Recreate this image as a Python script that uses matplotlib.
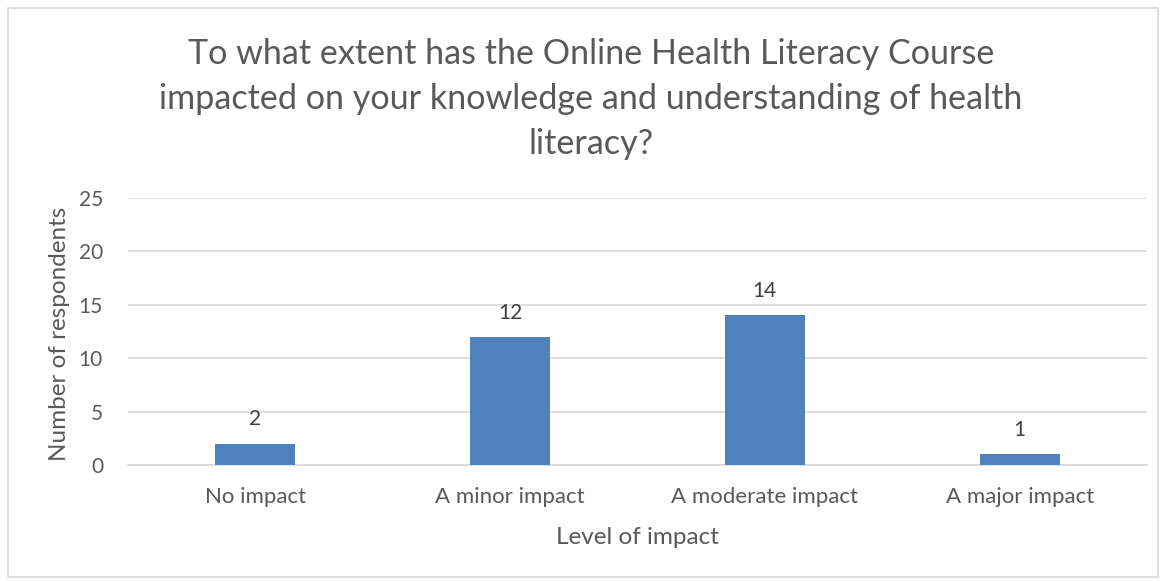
import matplotlib
matplotlib.use("Agg")
import matplotlib.pyplot as plt
from matplotlib.patches import Rectangle

categories = ["No impact", "A minor impact", "A moderate impact", "A major impact"]
values = [2, 12, 14, 1]
yticks = [0, 5, 10, 15, 20, 25]
title = ("To what extent has the Online Health Literacy Course\n"
         "impacted on your knowledge and understanding of health\n"
         "literacy?")

plt.rcParams['font.family'] = ['Lato', 'DejaVu Sans']
TXT = '#595959'

fig = plt.figure(figsize=(11.69, 5.81), dpi=100)
ax = fig.add_axes([128/1169, 1-465/581, (1147-128)/1169, (465-198)/581])

x = list(range(len(categories)))
bars = ax.bar(x, values, width=0.314, color='#4F81BD', zorder=3)
for xi, v in zip(x, values):
    ax.annotate(str(v), (xi, v), xytext=(0, 17.5), textcoords='offset points',
                ha='center', va='center', fontsize=15, color='#404040')

ax.set_xlim(-0.5, len(categories) - 0.5)
ax.set_ylim(0, 25)
ax.set_yticks(yticks)
ax.set_yticklabels([str(t) for t in yticks], fontsize=15, color=TXT)
ax.set_xticks(x)
ax.set_xticklabels(categories, fontsize=16, color=TXT)
ax.tick_params(axis='both', length=0)
ax.tick_params(axis='y', pad=18)
ax.tick_params(axis='x', pad=16)
ax.grid(axis='y', color='#D9D9D9', linewidth=1.2, zorder=0)
for s in ['top', 'right', 'left']:
    ax.spines[s].set_visible(False)
ax.spines['bottom'].set_color('#D9D9D9')
ax.spines['bottom'].set_linewidth(1.2)

ax.set_xlabel("Level of impact", fontsize=17.5, color=TXT, labelpad=14)
fig.text(60/1169, 1-334/581, "Number of respondents", rotation=90, ha='center', va='center',
         fontsize=17.5, color=TXT)

fig.text(591/1169, 1-99/581, title, ha='center', va='center', fontsize=24.6, color=TXT,
         linespacing=1.5)

fig.patches.append(Rectangle((8/1169, 4/581), 1150/1169, 569/581, transform=fig.transFigure,
                             fill=False, edgecolor='#D9D9D9', linewidth=1.2))

fig.savefig("out.png", dpi=100)
